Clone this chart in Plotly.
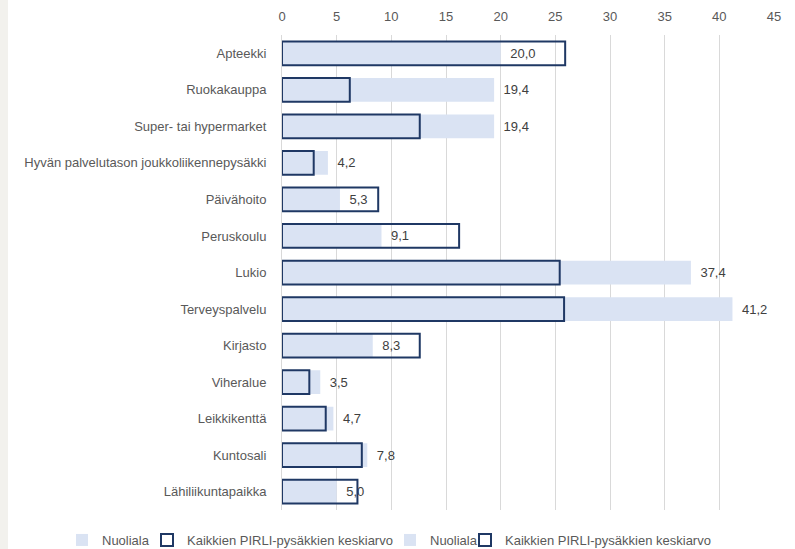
import plotly.graph_objects as go

categories = ["Apteekki", "Ruokakauppa", "Super- tai hypermarket",
              "Hyvän palvelutason joukkoliikennepysäkki", "Päivähoito", "Peruskoulu",
              "Lukio", "Terveyspalvelu", "Kirjasto", "Viheralue", "Leikkikenttä",
              "Kuntosali", "Lähiliikuntapaikka"]
nuoliala = [20.0, 19.4, 19.4, 4.2, 5.3, 9.1, 37.4, 41.2, 8.3, 3.5, 4.7, 7.8, 5.0]
pirli_avg = [25.9, 6.2, 12.6, 2.9, 8.8, 16.2, 25.4, 25.8, 12.6, 2.5, 4.0, 7.3, 6.9]
x_ticks = [0, 5, 10, 15, 20, 25, 30, 35, 40, 45]
legend_names = ["Nuoliala", "Kaikkien PIRLI-pysäkkien keskiarvo",
                "Nuoliala", "Kaikkien PIRLI-pysäkkien keskiarvo"]

LIGHT = "#dae3f3"
NAVY = "#1f3864"
TXT = "#595959"
FONT = "Liberation Sans"

W, H = 795, 549
L, R, T, B = 282, 21, 35, 39
pw, ph = W - L - R, H - T - B

fig = go.Figure()
fig.add_trace(go.Bar(
    x=nuoliala, y=categories, orientation="h", name=legend_names[0], legend="legend",
    showlegend=True,
    marker=dict(color=LIGHT, line=dict(width=0)), width=0.65,
    texttemplate="\u2002%{x:.1f}", textposition="outside", cliponaxis=False,
    textfont=dict(color="#404040", size=13, family=FONT), hoverinfo="skip"))
fig.add_trace(go.Bar(
    x=pirli_avg, y=categories, orientation="h", name=legend_names[1], legend="legend2",
    showlegend=True,
    marker=dict(color="rgba(0,0,0,0)", line=dict(color=NAVY, width=2)), width=0.65,
    hoverinfo="skip"))
# duplicated legend entries, as in the original chart
fig.add_trace(go.Bar(x=[None], y=[None], orientation="h", name=legend_names[2], legend="legend3",
                     showlegend=True, marker=dict(color=LIGHT, line=dict(width=0))))
fig.add_trace(go.Bar(x=[None], y=[None], orientation="h", name=legend_names[3], legend="legend4",
                     showlegend=True,
                     marker=dict(color="rgba(0,0,0,0)", line=dict(color=NAVY, width=2))))

text_starts = [102, 187, 430, 505]  # pixel x of legend texts
leg_y = -(540 - (H - B)) / ph


def leg(px):
    return dict(orientation="h", x=(px - 40 - L) / pw, xanchor="left",
                y=leg_y, yanchor="middle", bgcolor="rgba(0,0,0,0)",
                font=dict(size=13, color=TXT, family=FONT))


fig.update_layout(
    width=W, height=H, margin=dict(l=L, r=R, t=T, b=B, autoexpand=False),
    barmode="overlay", separators=", ", showlegend=True,
    paper_bgcolor="white", plot_bgcolor="white",
    font=dict(family=FONT, size=13, color=TXT),
    xaxis=dict(side="top", range=[0, 45], tickvals=x_ticks, showgrid=True,
               gridcolor="#d9d9d9", gridwidth=1, zeroline=False, showline=False,
               tickfont=dict(size=13, color=TXT), ticks="", ticklabelstandoff=10,
               fixedrange=True),
    yaxis=dict(categoryorder="array", categoryarray=categories, range=[12.5, -0.5],
               showgrid=False, showline=True, linecolor="#d9d9d9", linewidth=1,
               ticks="", ticklabelstandoff=12, tickfont=dict(size=13, color=TXT),
               fixedrange=True),
    legend=leg(text_starts[0]), legend2=leg(text_starts[1]),
    legend3=leg(text_starts[2]), legend4=leg(text_starts[3]),
    shapes=[dict(type="rect", xref="paper", yref="paper",
                 x0=-L / pw, x1=(8 - L) / pw, y0=-B / ph - 0.01, y1=1 + T / ph + 0.01,
                 fillcolor="#f2f1ed", line=dict(width=0), layer="below")],
)

fig.write_html("out.html", config={"displayModeBar": False},
               post_script="document.body.style.margin='0';document.body.style.overflow='hidden';")
